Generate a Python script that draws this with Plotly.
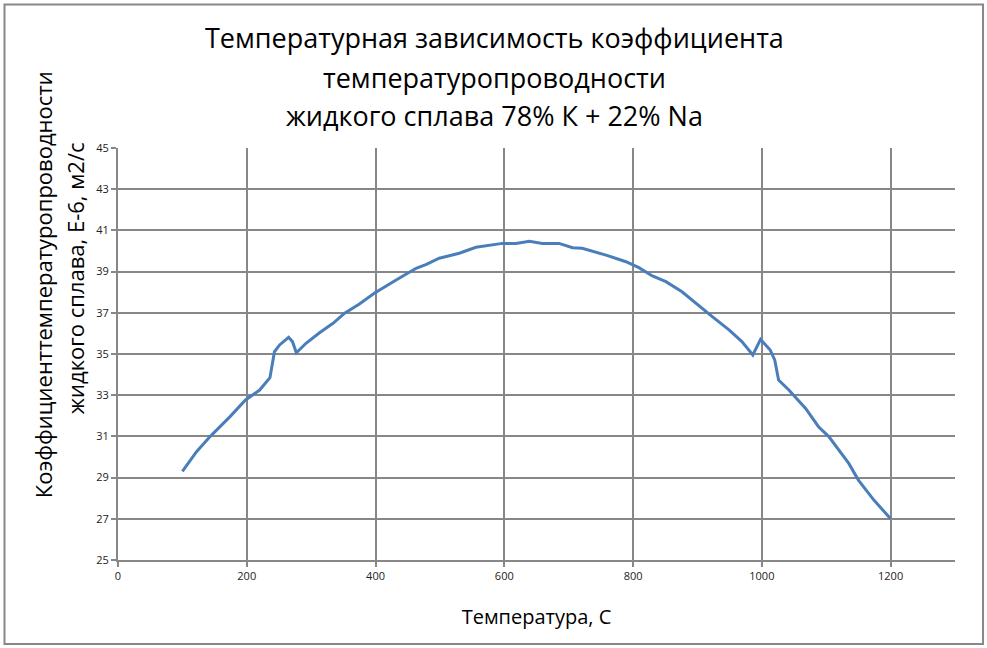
import plotly.graph_objects as go

# ── Data ──────────────────────────────────────────────────────────────────────
temperature = [100, 122, 143, 174, 198, 220, 236, 243, 251, 265, 271, 277,
               292, 313, 334, 352, 375, 398, 432, 463, 479, 499, 530, 556,
               597, 618, 639, 659, 685, 706, 721, 758, 789, 809, 830, 851,
               876, 902, 923, 949, 969, 986, 998, 1013, 1020, 1026, 1042,
               1068, 1088, 1104, 1135, 1150, 1174, 1200]
diffusivity = [29.3, 30.26, 30.99, 31.96, 32.77, 33.25, 33.85, 35.11, 35.44,
               35.81, 35.6, 35.06, 35.52, 36.03, 36.49, 36.98, 37.43, 37.95,
               38.59, 39.16, 39.35, 39.65, 39.89, 40.18, 40.37, 40.37, 40.47,
               40.37, 40.37, 40.16, 40.13, 39.8, 39.48, 39.19, 38.79, 38.51,
               38.02, 37.33, 36.81, 36.17, 35.6, 34.95, 35.71, 35.19, 34.71,
               33.74, 33.25, 32.36, 31.47, 30.99, 29.69, 28.88, 27.91, 27.0]

x_ticks = [0, 200, 400, 600, 800, 1000, 1200]
y_ticks = [25, 27, 29, 31, 33, 35, 37, 39, 41, 43, 45]

TITLE_LINES = ["Температурная зависимость коэффициента",
               "температуропроводности",
               "жидкого сплава 78% К + 22% Na"]
Y_LINE1 = "Коэффициенттемпературопроводности"
Y_LINE2 = "жидкого сплава, E-6, м2/с"
X_TITLE = "Температура, С"

GRID = "#878787"
BLUE = "#4a7ebb"
FONT = "Open Sans"

fig = go.Figure()
fig.add_trace(go.Scatter(x=temperature, y=diffusivity, mode="lines",
                         line=dict(color=BLUE, width=3), showlegend=False))

axis_common = dict(showline=True, linecolor=GRID, linewidth=2,
                   showgrid=True, gridcolor=GRID, gridwidth=2,
                   ticks="outside", ticklen=5, tickcolor=GRID, tickwidth=2,
                   zeroline=False, tickfont=dict(size=11, color="#222222"))

fig.update_xaxes(range=[0, 1300], tickvals=x_ticks, **axis_common,
                 title=dict(text=X_TITLE, font=dict(size=20, color="black"),
                            standoff=28))
fig.update_yaxes(range=[25, 45], tickvals=y_ticks, **axis_common)

# chart title: one annotation per line, to match the original line spacing
for text, ypos in zip(TITLE_LINES, [1.267, 1.172, 1.078]):
    fig.add_annotation(text=text, xref="paper", yref="paper", x=0.4504,
                       y=ypos, showarrow=False, xanchor="center",
                       yanchor="middle", font=dict(size=27, color="black"))

# y-axis title as two rotated lines
fig.add_annotation(text=Y_LINE1, xref="paper", yref="paper",
                   x=-0.0896, y=0.667, textangle=-90, showarrow=False,
                   font=dict(size=22, color="black"), xanchor="center",
                   yanchor="middle")
fig.add_annotation(text=Y_LINE2, xref="paper", yref="paper",
                   x=-0.0514, y=0.684, textangle=-90, showarrow=False,
                   font=dict(size=22, color="black"), xanchor="center",
                   yanchor="middle")

# outer chart border
fig.add_shape(type="rect", xref="paper", yref="paper",
              x0=-0.1356, x1=1.0335, y0=-0.2039, y1=1.3483,
              line=dict(color=GRID, width=2), layer="above")

fig.update_layout(
    width=987, height=648,
    margin=dict(l=118, r=32, t=148, b=88),
    paper_bgcolor="white", plot_bgcolor="white",
    font=dict(family=FONT, color="black"),
)

fig.write_html("out.html", config={"displayModeBar": False},
               post_script="document.body.style.margin='0';")
